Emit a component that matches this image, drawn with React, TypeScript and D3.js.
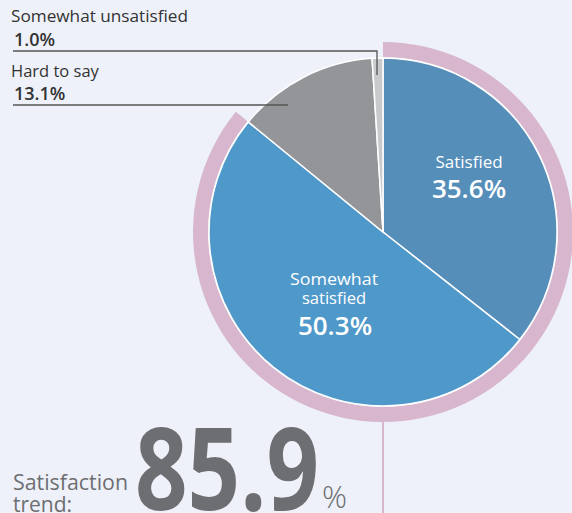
import React from "react";
import * as d3 from "d3";

const categories = ["Satisfied", "Somewhat satisfied", "Hard to say", "Somewhat unsatisfied"];
const values = [35.6, 50.3, 13.1, 1.0];
const colors = ["#568eba", "#4f98ca", "#939598", "#c9cacc"];
const trendValue = 85.9;

const W = 572, H = 513;
const cx = 383, cy = 232, R = 174;

export default function App() {
  const pie = d3.pie<number>().sort(null).value((d) => d);
  const arcs = pie(values);
  const arcGen = d3.arc<d3.PieArcDatum<number>>().innerRadius(0).outerRadius(R);
  const ringArc = d3.arc()({
    innerRadius: R + 1,
    outerRadius: R + 16,
    startAngle: 0,
    endAngle: (trendValue / 100) * 2 * Math.PI,
  } as any) as string;
  const font = "'Open Sans', 'Noto Sans', sans-serif";
  return (
    <svg width={W} height={H} style={{ position: "absolute", left: 0, top: 0, background: "#eef1f9" }}>
      <rect width={W} height={H} fill="#eef1f9" />
      <line x1={cx} x2={cx} y1={cy + R + 10} y2={H} stroke="#d8b6cd" strokeWidth={2} />
      <g transform={`translate(${cx},${cy})`}>
        <path d={ringArc} fill="#d8b6cd" />
        {arcs.map((a, i) => (
          <path key={categories[i]} d={arcGen(a) as string} fill={colors[i]} stroke="#ffffff" strokeWidth={1.5} />
        ))}
      </g>
      {/* leader lines */}
      <polyline points="13,51 377,51 377,75" fill="none" stroke="#555" strokeWidth={1.3} />
      <line x1={13} x2={288} y1={105} y2={105} stroke="#555" strokeWidth={1.3} />
      <g fontFamily={font} fill="#333">
        <text x={11} y={22} fontSize={17} textLength={177} lengthAdjust="spacingAndGlyphs">{categories[3]}</text>
        <text x={14} y={46} fontSize={18} fontWeight={600}>{values[3].toFixed(1)}%</text>
        <text x={11} y={77} fontSize={16.5}>{categories[2]}</text>
        <text x={14} y={100} fontSize={18} fontWeight={600}>{values[2].toFixed(1)}%</text>
      </g>
      <g fontFamily={font} fill="#ffffff" textAnchor="middle">
        <text x={469} y={168} fontSize={17}>{categories[0]}</text>
        <text x={469} y={198} fontSize={26} fontWeight={600}>{values[0].toFixed(1)}%</text>
        <text x={334} y={285} fontSize={16.5} textLength={88} lengthAdjust="spacingAndGlyphs">Somewhat</text>
        <text x={334} y={304} fontSize={16.5}>satisfied</text>
        <text x={335} y={335} fontSize={26} fontWeight={600}>{values[1].toFixed(1)}%</text>
      </g>
      <g fontFamily={font} fill="#6d6e71">
        <text x={13} y={490} fontSize={21} textLength={115} lengthAdjust="spacingAndGlyphs">Satisfaction</text>
        <text x={13} y={512} fontSize={21}>trend:</text>
        <text x={135} y={510} fontSize={114} fontWeight="bold" textLength={184} lengthAdjust="spacingAndGlyphs">{trendValue.toFixed(1)}</text>
        <text x={322} y={508} fontSize={31} fontWeight={300}>%</text>
      </g>
    </svg>
  );
}
